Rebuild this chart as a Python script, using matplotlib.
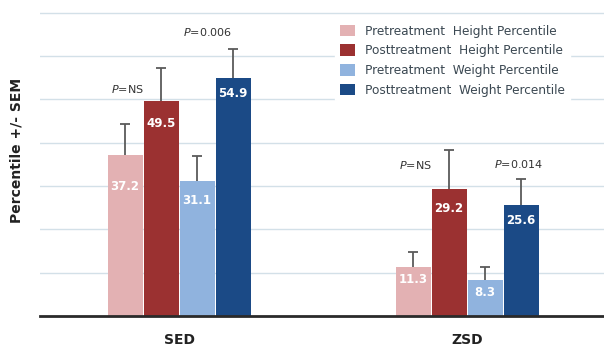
import matplotlib.pyplot as plt
import numpy as np
from matplotlib.patches import Patch

groups = ["SED", "ZSD"]
series = [
    "Pretreatment  Height Percentile",
    "Posttreatment  Height Percentile",
    "Pretreatment  Weight Percentile",
    "Posttreatment  Weight Percentile",
]
means = [
    [37.2, 11.3],
    [49.5, 29.2],
    [31.1, 8.3],
    [54.9, 25.6],
]
sems = [
    [7.0, 3.4],
    [7.7, 9.1],
    [5.8, 3.0],
    [6.6, 6.1],
]
colors = ["#e3b1b3", "#9b3131", "#90b3de", "#1b4a86"]

# value label drop below bar top, in points
label_drop = [
    [23, 9],
    [16, 14],
    [14, 9],
    [11, 11],
]

# p-value annotations: group, x offset, y centre, text
pvals = [
    (0, -0.18, 52.3, "NS"),
    (0, 0.10, 65.5, "0.006"),
    (1, -0.18, 34.9, "NS"),
    (1, 0.18, 35.0, "0.014"),
]

fig = plt.figure(figsize=(6.04, 3.49), dpi=100)
ax = fig.add_axes([40 / 604, 33 / 349, 564 / 604, 310 / 349])

x = np.arange(len(groups))
width = 0.125
offsets = (np.arange(len(series)) - 1.5) * width

for i, name in enumerate(series):
    xs = x + offsets[i]
    tops = np.array(means[i]) + np.array(sems[i])
    ax.bar(xs, means[i], width=width * 0.97, color=colors[i], zorder=2)
    # upper-only error bars with a single cap
    ax.vlines(xs, means[i], tops, color="#5a5a5a", linewidth=1.3, zorder=3)
    ax.plot(xs, tops, linestyle="none", marker="_", markersize=7,
            markeredgewidth=1.3, color="#5a5a5a", zorder=3)
    for xi, m, d in zip(xs, means[i], label_drop[i]):
        ax.annotate(f"{m}", (xi, m), xytext=(0, -d), textcoords="offset points",
                    ha="center", va="center", color="white", fontsize=8.5,
                    fontweight="bold", zorder=4)

for g, dx, yc, txt in pvals:
    ax.text(x[g] + dx, yc, f"$P$={txt}", ha="center", va="center",
            fontsize=8, color="#333333")

ax.set_xlim(-0.483, 1.475)
ax.set_ylim(0, 71.5)
ax.set_yticks(np.arange(10, 71, 10))
ax.yaxis.grid(True, color="#d3e0e8", linewidth=1, zorder=0)
ax.tick_params(axis="y", length=0, labelleft=False)
ax.tick_params(axis="x", length=0, pad=12)
ax.set_xticks(x)
ax.set_xticklabels(groups, fontsize=10, fontweight="bold", color="#222222")
for side in ["left", "right", "top"]:
    ax.spines[side].set_visible(False)
ax.spines["bottom"].set_color("#2a2a2a")
ax.spines["bottom"].set_linewidth(2)

fig.text(17 / 604, 1 - 150 / 349, "Percentile +/- SEM", rotation=90,
         ha="center", va="center", fontsize=10, fontweight="bold",
         color="#222222")

handles = [Patch(facecolor=c) for c in colors]
leg = ax.legend(handles, series, loc="upper left",
                bbox_to_anchor=(0.513, 0.975), frameon=True,
                fontsize=8.7, handlelength=1.2, handleheight=1.1,
                handletextpad=0.85, labelspacing=0.55, borderpad=0.4)
leg.get_frame().set_facecolor("white")
leg.get_frame().set_edgecolor("white")
leg.get_frame().set_alpha(1)
for t in leg.get_texts():
    t.set_color("#3b4852")

fig.savefig("out.png", dpi=100)
